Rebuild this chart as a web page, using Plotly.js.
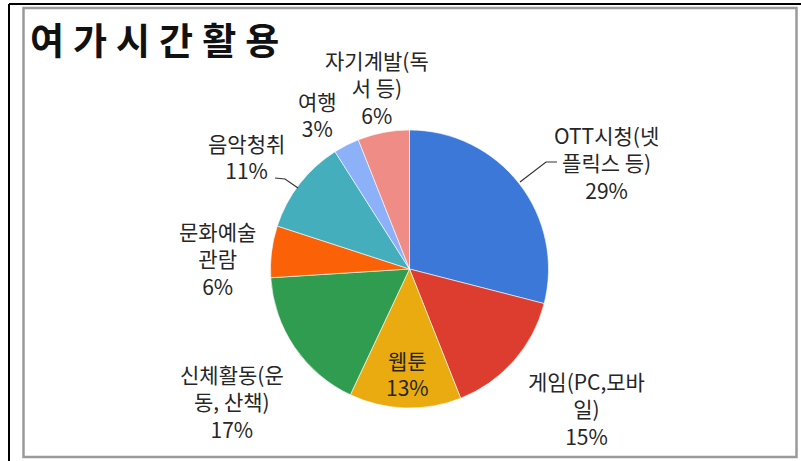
<!DOCTYPE html>
<html>
<head>
<meta charset="utf-8">
<script src="https://cdn.plot.ly/plotly-3.0.1.min.js"></script>
<style>
  html, body { margin: 0; padding: 0; background: #ffffff; }
  #chart { width: 801px; height: 461px; }
  .gtitle { letter-spacing: 9px; }
</style>
</head>
<body>
<div id="chart"></div>
<script>
// ---- data ----
const categories = ['OTT시청(넷플릭스 등)', '게임(PC,모바일)', '웹툰', '신체활동(운동, 산책)', '문화예술관람', '음악청취', '여행', '자기계발(독서 등)'];
const values = [29, 15, 13, 17, 6, 11, 3, 6];
const labelLines = [
  ['OTT시청(넷', '플릭스 등)'],
  ['게임(PC,모바', '일)'],
  ['웹툰'],
  ['신체활동(운', '동, 산책)'],
  ['문화예술', '관람'],
  ['음악청취'],
  ['여행'],
  ['자기계발(독', '서 등)']
];
const colors = ['#3c78d8', '#dc3d2f', '#e9ab0f', '#2f9c50', '#fb6208', '#45aebd', '#8db1f8', '#f08c86'];
const titleText = '여가시간활용';

// ---- layout helpers (pixel positions of label block centres) ----
const W = 801, H = 461;
const px = x => x / W;
const py = y => 1 - y / H;
// [center x, center y]
const labelPos = [
  [606, 162],
  [586, 408],
  [407, 373.5],
  [232, 401],
  [217, 258.5],
  [247, 156.5],
  [317, 114],
  [377, 88]
];

const cx = 409.5, cy = 269, r = 139;

const annotations = categories.map((c, i) => {
  const lines = labelLines[i].concat([values[i] + '%']);
  return {
    text: lines.join('<br>'), xref: 'paper', yref: 'paper',
    x: px(labelPos[i][0]), y: py(labelPos[i][1]),
    xanchor: 'center', yanchor: 'middle', align: 'center', showarrow: false,
    borderpad: 0,
    font: { family: '"Noto Sans CJK KR", "Noto Sans", sans-serif', size: 21, color: '#262626' }
  };
});

function pathPx(pts) {
  return pts.map((p, i) => (i ? 'L' : 'M') + px(p[0]) + ',' + py(p[1])).join(' ');
}

const shapes = [
  // outer black frame lines
  { type: 'line', xref: 'paper', yref: 'paper', x0: px(9), y0: py(4), x1: px(801), y1: py(4), line: { color: '#000000', width: 2 } },
  { type: 'line', xref: 'paper', yref: 'paper', x0: px(9), y0: py(4), x1: px(9), y1: py(461), line: { color: '#000000', width: 2 } },
  // inner gray box
  { type: 'rect', xref: 'paper', yref: 'paper', x0: px(23.5), y0: py(8), x1: px(796.5), y1: py(457), line: { color: '#9a9a9a', width: 2.5 } },
  // leader lines
  { type: 'path', xref: 'paper', yref: 'paper', path: pathPx([[557, 162], [546, 162], [520, 182]]), line: { color: '#333333', width: 1.2 } },
  { type: 'path', xref: 'paper', yref: 'paper', path: pathPx([[275, 178], [285, 179], [298, 188]]), line: { color: '#333333', width: 1.2 } }
];

const trace = {
  type: 'pie',
  labels: categories,
  values: values,
  sort: false,
  direction: 'clockwise',
  rotation: 0,
  marker: { colors: colors, line: { color: '#ffffff', width: 0.6 } },
  textinfo: 'none',
  hoverinfo: 'label+percent',
  showlegend: false,
  domain: { x: [px(cx - r), px(cx + r)], y: [py(cy + r), py(cy - r)] }
};

const layout = {
  width: W, height: H,
  margin: { l: 0, r: 0, t: 0, b: 0 },
  paper_bgcolor: '#ffffff',
  showlegend: false,
  title: {
    text: '<b>' + titleText + '</b>',
    x: px(30), xanchor: 'left', xref: 'paper',
    y: py(42), yanchor: 'middle', yref: 'paper',
    font: { family: '"Noto Sans CJK KR", sans-serif', size: 37, color: '#111111' }
  },
  annotations: annotations,
  shapes: shapes
};

Plotly.newPlot('chart', [trace], layout, { displayModeBar: false, staticPlot: true });
</script>
</body>
</html>
